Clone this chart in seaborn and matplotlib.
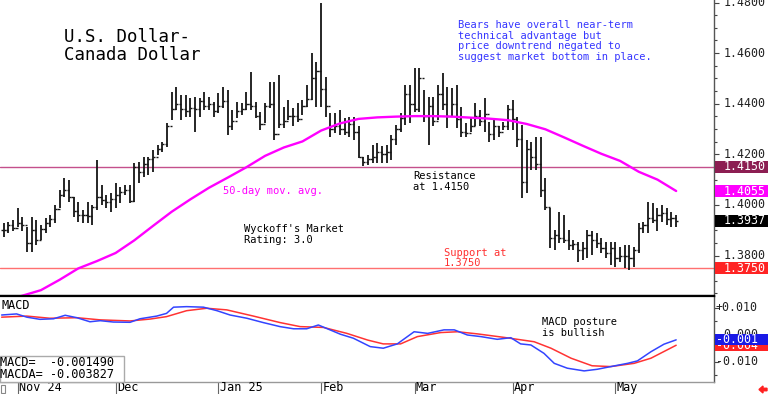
import numpy as np
import pandas as pd
import matplotlib
matplotlib.use("Agg")
import matplotlib.pyplot as plt
import matplotlib.transforms as mtransforms
from matplotlib.patches import Rectangle, FancyArrow
from matplotlib.ticker import MultipleLocator
import seaborn as sns

# ---------------- data ----------------
dates = pd.bdate_range("2024-10-29", "2025-05-20")
dates = dates[dates != pd.Timestamp("2025-01-01")]

high = [1.3928, 1.3934, 1.3941, 1.3987, 1.3954, 1.3914, 1.3954, 1.3941, 1.3921, 1.3947,
        1.3960, 1.4000, 1.4059, 1.4105, 1.4099, 1.4033, 1.4013, 1.3980, 1.4013, 1.4000,
        1.4178, 1.4079, 1.4040, 1.4046, 1.4086, 1.4072, 1.4079, 1.4079, 1.4165, 1.4171,
        1.4191, 1.4191, 1.4217, 1.4237, 1.4250, 1.4323, 1.4448, 1.4465, 1.4435, 1.4435,
        1.4422, 1.4428, 1.4422, 1.4448, 1.4428, 1.4408, 1.4441, 1.4465, 1.4455, 1.4375,
        1.4408, 1.4402, 1.4448, 1.4527, 1.4408, 1.4369, 1.4402, 1.4487, 1.4487, 1.4514,
        1.4389, 1.4415, 1.4382, 1.4402, 1.4415, 1.4474, 1.4600, 1.4566, 1.4797, 1.4507,
        1.4362, 1.4362, 1.4375, 1.4343, 1.4349, 1.4349, 1.4310, 1.4191, 1.4198, 1.4237,
        1.4244, 1.4231, 1.4237, 1.4277, 1.4316, 1.4362, 1.4474, 1.4474, 1.4540, 1.4540,
        1.4455, 1.4428, 1.4428, 1.4474, 1.4520, 1.4468, 1.4461, 1.4474, 1.4389, 1.4323,
        1.4343, 1.4402, 1.4375, 1.4422, 1.4329, 1.4336, 1.4310, 1.4329, 1.4395, 1.4415,
        1.4349, 1.4316, 1.4257, 1.4250, 1.4270, 1.4270, 1.4105, 1.3987, 1.3901, 1.3974,
        1.3960, 1.3901, 1.3862, 1.3855, 1.3855, 1.3901, 1.3895, 1.3888, 1.3868, 1.3855,
        1.3855, 1.3855, 1.3835, 1.3842, 1.3842, 1.3835, 1.3928, 1.3934, 1.4013, 1.4007,
        1.3987, 1.4000, 1.3987, 1.3974, 1.3960]
low = [1.3875, 1.3888, 1.3895, 1.3914, 1.3895, 1.3815, 1.3815, 1.3842, 1.3862, 1.3888,
       1.3914, 1.3928, 1.3987, 1.4033, 1.4013, 1.3954, 1.3934, 1.3928, 1.3928, 1.3921,
       1.3980, 1.4000, 1.3987, 1.3974, 1.3987, 1.4007, 1.4040, 1.4007, 1.4013, 1.4086,
       1.4112, 1.4119, 1.4132, 1.4198, 1.4211, 1.4230, 1.4336, 1.4375, 1.4336, 1.4349,
       1.4349, 1.4290, 1.4349, 1.4375, 1.4375, 1.4349, 1.4362, 1.4382, 1.4277, 1.4296,
       1.4343, 1.4356, 1.4375, 1.4375, 1.4343, 1.4296, 1.4323, 1.4382, 1.4257, 1.4303,
       1.4303, 1.4336, 1.4310, 1.4329, 1.4356, 1.4389, 1.4415, 1.4389, 1.4389, 1.4349,
       1.4270, 1.4283, 1.4277, 1.4277, 1.4270, 1.4257, 1.4185, 1.4152, 1.4158, 1.4165,
       1.4165, 1.4165, 1.4165, 1.4178, 1.4237, 1.4290, 1.4316, 1.4323, 1.4369, 1.4369,
       1.4329, 1.4237, 1.4310, 1.4336, 1.4375, 1.4303, 1.4349, 1.4303, 1.4270, 1.4270,
       1.4290, 1.4310, 1.4310, 1.4290, 1.4250, 1.4257, 1.4270, 1.4296, 1.4296, 1.4296,
       1.4230, 1.4026, 1.4046, 1.4140, 1.4138, 1.4030, 1.3980, 1.3829, 1.3822, 1.3849,
       1.3849, 1.3822, 1.3822, 1.3776, 1.3783, 1.3789, 1.3802, 1.3829, 1.3809, 1.3789,
       1.3763, 1.3756, 1.3776, 1.3750, 1.3743, 1.3756, 1.3809, 1.3888, 1.3888, 1.3928,
       1.3895, 1.3934, 1.3921, 1.3914, 1.3914]
close = [1.3900, 1.3920, 1.3910, 1.3930, 1.3920, 1.3850, 1.3900, 1.3860, 1.3905, 1.3930,
         1.3945, 1.3985, 1.4040, 1.4060, 1.4030, 1.3975, 1.3960, 1.3960, 1.3955, 1.3990,
         1.4030, 1.4020, 1.4010, 1.4025, 1.4040, 1.4050, 1.4060, 1.4015, 1.4150, 1.4130,
         1.4160, 1.4180, 1.4190, 1.4220, 1.4240, 1.4310, 1.4380, 1.4400, 1.4380, 1.4370,
         1.4385, 1.4380, 1.4410, 1.4390, 1.4400, 1.4370, 1.4390, 1.4410, 1.4310, 1.4330,
         1.4370, 1.4380, 1.4400, 1.4390, 1.4350, 1.4320, 1.4390, 1.4400, 1.4280, 1.4320,
         1.4330, 1.4350, 1.4350, 1.4340, 1.4390, 1.4420, 1.4500, 1.4530, 1.4460, 1.4390,
         1.4300, 1.4310, 1.4300, 1.4290, 1.4320, 1.4290, 1.4190, 1.4170, 1.4180, 1.4190,
         1.4210, 1.4200, 1.4210, 1.4260, 1.4300, 1.4345, 1.4440, 1.4400, 1.4380, 1.4500,
         1.4350, 1.4390, 1.4330, 1.4440, 1.4400, 1.4350, 1.4400, 1.4340, 1.4290, 1.4285,
         1.4310, 1.4350, 1.4330, 1.4360, 1.4280, 1.4310, 1.4290, 1.4310, 1.4380, 1.4340,
         1.4260, 1.4090, 1.4220, 1.4190, 1.4160, 1.4060, 1.3990, 1.3870, 1.3880, 1.3870,
         1.3860, 1.3840, 1.3845, 1.3820, 1.3830, 1.3880, 1.3860, 1.3850, 1.3830, 1.3810,
         1.3830, 1.3790, 1.3800, 1.3800, 1.3790, 1.3820, 1.3910, 1.3920, 1.3950, 1.3940,
         1.3960, 1.3970, 1.3945, 1.3950, 1.3937]

# 50-day moving average, read at bar positions
ma_idx = [0, 4, 8, 12, 16, 20, 24, 28, 32, 36, 40, 44, 48, 52, 56, 60, 64, 68, 72, 76,
          80, 84, 88, 92, 96, 100, 104, 108, 112, 116, 120, 124, 128, 132, 136, 140, 144]
ma_vals = [1.3618, 1.3641, 1.3663, 1.3704, 1.3749, 1.3778, 1.3810, 1.3860, 1.3917, 1.3973,
           1.4022, 1.4068, 1.4108, 1.4149, 1.4194, 1.4227, 1.4251, 1.4294, 1.4322, 1.4340,
           1.4346, 1.4349, 1.4351, 1.4351, 1.4349, 1.4345, 1.4341, 1.4335, 1.4320, 1.4299,
           1.4267, 1.4234, 1.4202, 1.4174, 1.4131, 1.4100, 1.4055]

# MACD (blue) and MACD average (red)
macd_idx = [-0.4, 2.8, 5.0, 7.8, 10.7, 13.2, 15.7, 18.5, 20.7, 23.5, 27.1, 29.2, 32.8, 34.9,
            36.4, 39.2, 42.8, 45.7, 48.5, 52.1, 55.6, 59.2, 62.1, 64.9, 67.4, 69.9, 72.1,
            74.9, 78.5, 81.3, 84.3, 87.9, 90.8, 94.3, 96.5, 99.3, 102.2, 105.7, 108.6,
            110.7, 112.9, 115.7, 117.9, 120.7, 124.3, 127.1, 130.0, 133.6, 135.7, 138.6,
            141.4, 144.0]
macd_vals = [0.0074, 0.0078, 0.0066, 0.0058, 0.0060, 0.0073, 0.0064, 0.0049, 0.0053, 0.0048,
             0.0047, 0.0060, 0.0070, 0.0080, 0.0103, 0.0105, 0.0103, 0.0090, 0.0074, 0.0062,
             0.0046, 0.0031, 0.0023, 0.0023, 0.0037, 0.0019, 0.0003, -0.0012, -0.0043,
             -0.0049, -0.0033, 0.0012, 0.0006, 0.0019, 0.0019, 0.0000, -0.0006, -0.0016,
             -0.0010, -0.0033, -0.0037, -0.0068, -0.0105, -0.0123, -0.0133, -0.0127,
             -0.0117, -0.0105, -0.0096, -0.0062, -0.0034, -0.0018]
signal_idx = [-0.4, 5.0, 9.9, 15.7, 20.7, 27.1, 31.4, 34.9, 39.2, 43.5, 47.8, 53.5, 59.2,
              63.5, 68.5, 73.5, 78.0, 81.3, 85.0, 88.6, 93.6, 97.2, 101.5, 107.2, 113.6,
              117.2, 121.5, 126.0, 130.0, 135.0, 138.6, 144.0]
signal_vals = [0.0066, 0.0070, 0.0062, 0.0064, 0.0056, 0.0052, 0.0059, 0.0068, 0.0090,
               0.0099, 0.0093, 0.0070, 0.0046, 0.0031, 0.0028, 0.0006, -0.0019, -0.0033,
               -0.0033, -0.0006, 0.0009, 0.0012, 0.0004, -0.0009, -0.0025, -0.0049, -0.0086,
               -0.0114, -0.0117, -0.0105, -0.0086, -0.0038]

month_labels = ["Nov 24", "Dec", "Jan 25", "Feb", "Mar", "Apr", "May"]
price_ticks = [1.38, 1.40, 1.42, 1.44, 1.46, 1.48]
macd_ticks = [0.010, 0.0, -0.010]
macd_tick_labels = ["+0.010", "0.000", "-0.010"]
resistance = 1.4150
support = 1.3750
macd_last = -0.001490
macda_last = -0.003827

title_lines = ["U.S. Dollar-", "Canada Dollar"]
note_lines = ["Bears have overall near-term", "technical advantage but",
              "price downtrend negated to", "suggest market bottom in place."]

# ---------------- style ----------------
sns.set_theme(style="white")
plt.rcParams["font.family"] = ["DejaVu Sans Mono", "DejaVu Sans"]

W, H = 768, 394
def fx(px):
    return px / W
def fy(py):
    return 1 - py / H

fig = plt.figure(figsize=(W / 100, H / 100), dpi=100)
fig.patch.set_facecolor("white")
PW = 714
ax = fig.add_axes([0, fy(296), fx(PW), 296 / H])
axm = fig.add_axes([0, fy(382), fx(PW), 86 / H])

x = np.arange(len(close))
opens = [close[0]] + close[:-1]
bar_color = "#151515"
ax.vlines(x, low, high, color=bar_color, lw=1.3, zorder=3)
ax.hlines(close, x, x + 0.45, color=bar_color, lw=1.0, zorder=3)
ax.hlines(opens, x - 0.45, x, color=bar_color, lw=1.0, zorder=3)
sns.lineplot(x=ma_idx, y=ma_vals, ax=ax, color="#FF00FF", lw=1.7, zorder=4)
ax.axhline(resistance, color="#C4508C", lw=1.0, zorder=2)
ax.axhline(support, color="#FF7070", lw=1.0, zorder=2)

xlim = (-0.75, 152.1)
ax.set_xlim(*xlim)
ax.set_ylim(1.3640, 1.4810)
ax.set_xlabel("")
ax.set_ylabel("")

sns.lineplot(x=macd_idx, y=macd_vals, ax=axm, color="#3344FF", lw=1.1, zorder=4)
sns.lineplot(x=signal_idx, y=signal_vals, ax=axm, color="#FF3333", lw=1.1, zorder=3)
axm.set_xlim(*xlim)
axm.set_ylim(-0.01741, 0.01444)
axm.set_xlabel("")
axm.set_ylabel("")

for a in (ax, axm):
    a.set_facecolor("white")
    a.spines["left"].set_visible(False)
    a.spines["right"].set_color("#555555")
    a.spines["right"].set_linewidth(1.0)
ax.spines["top"].set_visible(False)
ax.spines["bottom"].set_color("black")
ax.spines["bottom"].set_linewidth(1.6)
axm.spines["top"].set_color("black")
axm.spines["top"].set_linewidth(1.6)
axm.spines["bottom"].set_color("#999999")
axm.spines["bottom"].set_linewidth(1.0)

# price axis ticks
ax.yaxis.tick_right()
ax.set_yticks(price_ticks)
ax.yaxis.set_minor_locator(MultipleLocator(0.005))
ax.tick_params(axis="y", which="both", right=True, left=False, labelright=False,
               direction="out", colors="#444444", width=0.8)
ax.tick_params(axis="y", which="major", length=3.5)
ax.tick_params(axis="y", which="minor", length=2)
ax.tick_params(axis="x", bottom=False, labelbottom=False)

# macd axis ticks
axm.yaxis.tick_right()
axm.set_yticks(macd_ticks)
axm.yaxis.set_minor_locator(MultipleLocator(0.005))
axm.tick_params(axis="y", which="both", right=True, left=False, labelright=False,
                direction="out", colors="#444444", width=0.8)
axm.tick_params(axis="y", which="major", length=3.5)
axm.tick_params(axis="y", which="minor", length=2)

# month ticks
periods = dates.to_period("M")
month_idx = [i for i in range(len(dates)) if i == 0 or periods[i] != periods[i - 1]]
month_idx = [i for i in month_idx if dates[i].day <= 3 and i > 0]
axm.set_xticks(month_idx)
axm.tick_params(axis="x", bottom=True, labelbottom=False, direction="out",
                length=8.8, width=0.8, colors="#666666")
trm = mtransforms.blended_transform_factory(axm.transData, axm.transAxes)
for i, lab in zip(month_idx, month_labels):
    axm.text(i + 0.25, -0.066, lab, transform=trm, ha="left", va="center",
             fontsize=8.5, color="black", clip_on=False)

# right-side tick labels
trp = mtransforms.blended_transform_factory(ax.transAxes, ax.transData)
for v in price_ticks:
    ax.text(766 / PW, v, f"{v:.4f}", transform=trp, ha="right", va="center",
            fontsize=8.4, color="#222222", clip_on=False)
trmm = mtransforms.blended_transform_factory(axm.transAxes, axm.transData)
for v, lab in zip(macd_ticks, macd_tick_labels):
    axm.text(758 / PW, v, lab, transform=trmm, ha="right", va="center",
             fontsize=8.4, color="#222222", clip_on=False)

def side_box(a, tr, val, label, fc, half_h, xr, z):
    a.add_patch(Rectangle((715 / PW, val - half_h), 53 / PW, 2 * half_h, transform=tr,
                          fc=fc, ec="none", clip_on=False, zorder=z))
    a.text(xr / PW, val, label, transform=tr, ha="right", va="center", fontsize=8.4,
           color="white", clip_on=False, zorder=z + 1)

hp = 6 / 2530
side_box(ax, trp, resistance, f"{resistance:.4f}", "#8C1E52", hp, 766, 6)
side_box(ax, trp, ma_vals[-1], f"{ma_vals[-1]:.4f}", "#FF00FF", hp, 766, 6)
side_box(ax, trp, close[-1], f"{close[-1]:.4f}", "#000000", hp, 766, 6)
side_box(ax, trp, support, f"{support:.4f}", "#FF2424", hp, 766, 6)
hm = 5.5 / 2700
side_box(axm, trmm, macda_last, f"{macda_last:.3f}", "#FF2424", hm, 758, 6)
side_box(axm, trmm, macd_last, f"{macd_last:.3f}", "#1A1AE6", hm, 758, 8)

# free text
def put_lines(px, py_top, lines, pitch, **kw):
    for k, s in enumerate(lines):
        fig.text(fx(px), fy(py_top + k * pitch), s, va="top", ha="left", **kw)

put_lines(64, 28, title_lines, 18, fontsize=12.5, color="black")
put_lines(458, 20, note_lines, 10.6, fontsize=7.5, color="#3535FF")
put_lines(223, 186, ["50-day mov. avg."], 11, fontsize=7.5, color="#FF00FF")
put_lines(413, 171, ["Resistance", "at 1.4150"], 11, fontsize=7.5, color="black")
put_lines(244, 224, ["Wyckoff's Market", "Rating: 3.0"], 11, fontsize=7.5, color="black")
put_lines(444, 248, ["Support at", "1.3750"], 10.5, fontsize=7.5, color="#FF3030")
put_lines(542, 317, ["MACD posture", "is bullish"], 11, fontsize=7.5, color="black")
put_lines(1, 299, ["MACD"], 11, fontsize=8.5, color="black")

# MACD value box
fig.add_artist(Rectangle((fx(0), fy(382)), fx(124), 26 / H, transform=fig.transFigure,
                         fc="white", ec="#AAAAAA", lw=1.0, zorder=10))
fig.text(fx(0), fy(356), f"MACD=  {macd_last:.6f}", va="top", ha="left",
         fontsize=8.6, color="black", zorder=11)
fig.text(fx(0), fy(368), f"MACDA= {macda_last:.6f}", va="top", ha="left",
         fontsize=8.6, color="black", zorder=11)

# small marks in bottom strip
fig.add_artist(Rectangle((fx(1), fy(393)), fx(4), 8 / H, transform=fig.transFigure,
                         fc="none", ec="#888888", lw=0.8))
fig.add_artist(FancyArrow(fx(767), fy(389.5), -fx(8), 0, width=2.5 / H, head_width=7 / H,
                          head_length=fx(4), length_includes_head=True, color="#FF2020",
                          transform=fig.transFigure))

fig.savefig("out.png", dpi=100, facecolor="white")
